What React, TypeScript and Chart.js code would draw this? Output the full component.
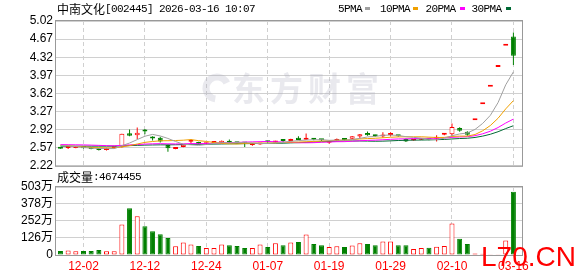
import React, { useEffect, useRef } from 'react';
import { Chart, registerables } from 'chart.js';

Chart.register(...registerables);

// ---------- data ----------
const opens = [
  2.57, 2.565, 2.565, 2.57, 2.56, 2.545, 2.525, 2.56, 2.58, 2.85,
  2.81, 2.89, 2.755, 2.76, 2.62, 2.545, 2.585, 2.685, 2.68, 2.635,
  2.66, 2.66, 2.67, 2.665, 2.66, 2.62, 2.63, 2.685, 2.67, 2.705,
  2.70, 2.76, 2.725, 2.735, 2.725, 2.665, 2.70, 2.725, 2.745, 2.785,
  2.855, 2.80, 2.785, 2.815, 2.81, 2.74, 2.71, 2.725, 2.735, 2.745,
  2.82, 2.83, 2.95, 2.88, 3.10, 3.41, 3.75, 4.13, 4.54, 4.72,
];
const highs = [
  2.575, 2.59, 2.585, 2.575, 2.565, 2.55, 2.57, 2.585, 2.84, 2.92,
  2.96, 2.93, 2.79, 2.78, 2.63, 2.57, 2.63, 2.74, 2.685, 2.65,
  2.685, 2.71, 2.73, 2.67, 2.665, 2.635, 2.655, 2.69, 2.705, 2.72,
  2.745, 2.79, 2.845, 2.74, 2.73, 2.68, 2.75, 2.73, 2.795, 2.835,
  2.885, 2.82, 2.87, 2.87, 2.815, 2.75, 2.735, 2.74, 2.74, 2.81,
  2.84, 3.04, 2.965, 2.89, 3.10, 3.41, 3.75, 4.13, 4.54, 4.80,
];
const lows = [
  2.55, 2.545, 2.56, 2.555, 2.54, 2.515, 2.515, 2.55, 2.575, 2.79,
  2.74, 2.83, 2.71, 2.67, 2.49, 2.54, 2.58, 2.64, 2.63, 2.625,
  2.65, 2.655, 2.66, 2.65, 2.585, 2.61, 2.625, 2.67, 2.665, 2.68,
  2.695, 2.715, 2.72, 2.715, 2.70, 2.645, 2.695, 2.71, 2.74, 2.745,
  2.80, 2.775, 2.76, 2.79, 2.78, 2.68, 2.705, 2.72, 2.715, 2.69,
  2.81, 2.80, 2.88, 2.80, 3.10, 3.41, 3.75, 4.13, 4.54, 4.17,
];
const closes = [
  2.55, 2.57, 2.575, 2.56, 2.545, 2.525, 2.56, 2.575, 2.84, 2.80,
  2.86, 2.885, 2.75, 2.69, 2.56, 2.565, 2.625, 2.69, 2.635, 2.645,
  2.67, 2.705, 2.665, 2.655, 2.65, 2.63, 2.65, 2.675, 2.70, 2.70,
  2.74, 2.72, 2.73, 2.725, 2.715, 2.675, 2.74, 2.72, 2.79, 2.83,
  2.81, 2.79, 2.825, 2.82, 2.79, 2.69, 2.73, 2.73, 2.725, 2.76,
  2.825, 2.97, 2.90, 2.82, 3.10, 3.41, 3.75, 4.13, 4.54, 4.35,
];
// volume in 万 (10,000 shares)
const volumes = [
  29, 34, 27, 29, 29, 37, 27, 27, 225, 345,
  287, 213, 176, 154, 125, 64, 93, 78, 66, 51,
  51, 78, 73, 66, 51, 51, 78, 59, 86, 73,
  93, 96, 152, 81, 73, 59, 64, 59, 71, 86,
  81, 73, 100, 100, 73, 73, 44, 51, 54, 61,
  66, 233, 120, 81, 12, 9, 6, 6, 108, 467.4455,
];
const ma5 = [
  2.615, 2.605, 2.59, 2.575, 2.56, 2.555, 2.553, 2.553, 2.609, 2.66,
  2.727, 2.792, 2.827, 2.797, 2.749, 2.69, 2.638, 2.626, 2.615, 2.632,
  2.653, 2.669, 2.664, 2.668, 2.669, 2.661, 2.65, 2.652, 2.661, 2.671,
  2.693, 2.707, 2.718, 2.723, 2.726, 2.713, 2.717, 2.715, 2.728, 2.751,
  2.778, 2.788, 2.809, 2.815, 2.807, 2.783, 2.771, 2.752, 2.733, 2.727,
  2.754, 2.802, 2.836, 2.855, 2.923, 3.04, 3.196, 3.442, 3.786, 4.036,
];
const ma10 = [
  2.615, 2.605, 2.595, 2.585, 2.575, 2.57, 2.565, 2.565, 2.585, 2.61,
  2.641, 2.673, 2.69, 2.703, 2.705, 2.709, 2.715, 2.727, 2.706, 2.691,
  2.672, 2.654, 2.645, 2.642, 2.651, 2.657, 2.66, 2.658, 2.665, 2.67,
  2.677, 2.679, 2.685, 2.692, 2.699, 2.703, 2.712, 2.717, 2.726, 2.739,
  2.746, 2.753, 2.762, 2.772, 2.779, 2.781, 2.78, 2.781, 2.774, 2.767,
  2.769, 2.787, 2.794, 2.794, 2.825, 2.897, 2.999, 3.139, 3.321, 3.48,
];
const ma20 = [
  2.63, 2.628, 2.626, 2.624, 2.62, 2.615, 2.61, 2.607, 2.615, 2.625,
  2.63, 2.64, 2.645, 2.648, 2.645, 2.643, 2.645, 2.65, 2.648, 2.65,
  2.656, 2.663, 2.668, 2.672, 2.678, 2.683, 2.687, 2.692, 2.685, 2.68,
  2.674, 2.666, 2.665, 2.667, 2.675, 2.68, 2.686, 2.687, 2.695, 2.704,
  2.711, 2.716, 2.724, 2.732, 2.739, 2.742, 2.746, 2.749, 2.75, 2.753,
  2.757, 2.77, 2.778, 2.783, 2.802, 2.839, 2.889, 2.96, 3.047, 3.123,
];
const ma30 = [
  2.60, 2.60, 2.60, 2.60, 2.60, 2.60, 2.60, 2.60, 2.605, 2.61,
  2.615, 2.62, 2.623, 2.625, 2.625, 2.627, 2.63, 2.632, 2.635, 2.637,
  2.64, 2.642, 2.645, 2.647, 2.648, 2.65, 2.652, 2.654, 2.655, 2.657,
  2.663, 2.668, 2.673, 2.679, 2.685, 2.69, 2.696, 2.70, 2.699, 2.70,
  2.698, 2.695, 2.697, 2.702, 2.709, 2.714, 2.717, 2.718, 2.721, 2.725,
  2.73, 2.739, 2.747, 2.753, 2.768, 2.794, 2.83, 2.879, 2.94, 2.995,
];
const priceTicks = [2.22, 2.57, 2.92, 3.27, 3.62, 3.97, 4.32, 4.67, 5.02];
const volumeTicks = [0, 126, 252, 378, 503];
const dateTickIndex = [3, 11, 19, 27, 35, 43, 51, 59];
const dateTickLabels = ['12-02', '12-12', '12-24', '01-07', '01-19', '01-29', '02-10', '03-16'];
const stockName = '中南文化';
const stockInfo = '[002445] 2026-03-16 10:07';
const volumeName = '成交量';
const volumeInfo = ':4674455';
const legendNames = ['5PMA', '10PMA', '20PMA', '30PMA'];
const watermarkText = '东方财富';
const siteMark = 'L70.CN';

// ---------- styles ----------
const RED = '#ff0000';
const GREEN = '#008000';
const MA_COLORS = ['#a0a0a0', '#f0a000', '#ff00ff', '#006a35'];
const GRID = '#d0d0d0';
const FRAME = '#999999';
const SANS = "'Liberation Sans', 'Noto Sans CJK SC', sans-serif";
const CJK = "'Noto Sans CJK SC', sans-serif";
const MONO = "'Liberation Mono', monospace";
const X_MIN = -0.58;
const X_MAX = 60.12;

const idx = closes.map((_, i) => i);
const isUp = idx.map((i) => closes[i] >= opens[i]);

const framePlugin = {
  id: 'frame',
  afterDraw(chart: any) {
    const { ctx, chartArea: a } = chart;
    ctx.save();
    ctx.strokeStyle = FRAME;
    ctx.lineWidth = 1;
    ctx.strokeRect(a.left - 0.5, a.top - 0.5, a.right - a.left + 1, a.bottom - a.top + 1);
    ctx.restore();
  },
};

const priceDecor = {
  id: 'priceDecor',
  beforeDatasetsDraw(chart: any) {
    const { ctx } = chart;
    ctx.save();
    ctx.fillStyle = 'rgba(170,170,190,0.26)';
    ctx.strokeStyle = 'rgba(170,170,190,0.26)';
    // logo swirl
    ctx.lineWidth = 7;
    ctx.beginPath();
    ctx.arc(217, 88, 11, Math.PI * 0.55, Math.PI * 1.85);
    ctx.stroke();
    ctx.font = `bold 33px ${CJK}`;
    ctx.textBaseline = 'middle';
    (ctx as any).letterSpacing = '5px';
    ctx.fillText(watermarkText, 232, 88);
    ctx.restore();
  },
  afterDraw(chart: any) {
    const { ctx } = chart;
    ctx.save();
    ctx.fillStyle = '#000';
    ctx.textBaseline = 'middle';
    ctx.font = `12px ${CJK}`;
    ctx.fillText(stockName, 57, 9);
    ctx.font = `11px ${MONO}`;
    (ctx as any).letterSpacing = '-0.6px';
    ctx.fillText(stockInfo, 105, 9);
    const tx = [338, 380, 425.5, 471.5];
    const rx = [365, 413, 460, 506];
    legendNames.forEach((n, k) => {
      ctx.fillStyle = '#000';
      ctx.fillText(n, tx[k], 9);
      ctx.fillStyle = MA_COLORS[k];
      ctx.fillRect(rx[k], 7, 5, 3);
    });
    ctx.restore();
  },
};

const volumeDecor = {
  id: 'volumeDecor',
  afterDraw(chart: any) {
    const { ctx } = chart;
    ctx.save();
    ctx.fillStyle = '#000';
    ctx.textBaseline = 'middle';
    ctx.font = `12px ${CJK}`;
    ctx.fillText(volumeName, 57, 17.5);
    ctx.font = `11px ${MONO}`;
    (ctx as any).letterSpacing = '-0.6px';
    ctx.fillText(volumeInfo, 93, 17.5);
    (ctx as any).letterSpacing = '0px';
    ctx.fillStyle = RED;
    ctx.textBaseline = 'alphabetic';
    ctx.font = `28px ${SANS}`;
    ctx.fillText(siteMark, 481, 106);
    ctx.restore();
  },
};

function xScale(showLabels: boolean) {
  return {
    type: 'linear',
    min: X_MIN,
    max: X_MAX,
    offset: false,
    afterBuildTicks: (s: any) => {
      s.ticks = dateTickIndex.map((v) => ({ value: v }));
    },
    afterFit: (s: any) => {
      s.height = showLabels ? 21 : 0;
    },
    grid: { color: GRID, lineWidth: 1, drawTicks: false, offset: false },
    border: { display: false, dash: [4, 3] },
    ticks: {
      display: showLabels,
      autoSkip: false,
      maxRotation: 0,
      padding: 4,
      color: RED,
      font: { family: SANS, size: 12 },
      callback: (v: any) => {
        const k = dateTickIndex.indexOf(Number(v));
        return k >= 0 ? dateTickLabels[k] : '';
      },
    },
  };
}

export default function App() {
  const priceRef = useRef<HTMLCanvasElement | null>(null);
  const volRef = useRef<HTMLCanvasElement | null>(null);

  useEffect(() => {
    const priceChart = new Chart(priceRef.current as HTMLCanvasElement, {
      type: 'bar',
      data: {
        datasets: [
          ...[ma5, ma10, ma20, ma30].map((arr, k) => ({
            type: 'line' as const,
            data: idx.map((i) => ({ x: i, y: arr[i] })),
            borderColor: MA_COLORS[k],
            borderWidth: 1,
            pointRadius: 0,
            tension: 0,
            order: 0,
          })),
          {
            type: 'bar' as const,
            data: idx.map((i) => ({ x: i, y: [opens[i], closes[i]] })),
            backgroundColor: idx.map((i) => (isUp[i] ? '#ffffff' : GREEN)),
            borderColor: idx.map((i) => (isUp[i] ? RED : GREEN)),
            borderWidth: 1,
            borderSkipped: false,
            barThickness: 5,
            minBarLength: 2,
            grouped: false,
            inflateAmount: 0,
            order: 1,
          },
          {
            type: 'bar' as const,
            data: idx.map((i) => ({ x: i, y: [lows[i], highs[i]] })),
            backgroundColor: idx.map((i) => (isUp[i] ? RED : GREEN)),
            borderWidth: 0,
            barThickness: 1,
            grouped: false,
            inflateAmount: 0,
            order: 2,
          },
        ] as any,
      },
      options: {
        animation: false,
        responsive: false,
        devicePixelRatio: 1,
        events: [],
        layout: { padding: { top: 21, right: 56, bottom: 10, left: 0 } },
        plugins: { legend: { display: false }, tooltip: { enabled: false } },
        scales: {
          x: xScale(false) as any,
          y: {
            type: 'linear',
            min: 2.22,
            max: 5.02,
            beginAtZero: false,
            afterBuildTicks: (s: any) => {
              s.ticks = priceTicks.map((v) => ({ value: v }));
            },
            afterFit: (s: any) => {
              s.width = 56;
            },
            grid: { color: GRID, drawTicks: false },
            border: { display: false },
            ticks: {
              autoSkip: false,
              padding: 3,
              color: '#000',
              font: { family: SANS, size: 12 },
              callback: (v: any) => Number(v).toFixed(2),
            },
          },
        },
      },
      plugins: [priceDecor, framePlugin],
    } as any);

    const volChart = new Chart(volRef.current as HTMLCanvasElement, {
      type: 'bar',
      data: {
        datasets: [
          {
            data: idx.map((i) => ({ x: i, y: volumes[i] })),
            backgroundColor: idx.map((i) => (isUp[i] ? '#ffffff' : GREEN)),
            borderColor: idx.map((i) => (isUp[i] ? RED : GREEN)),
            borderWidth: 1,
            borderSkipped: false,
            barThickness: 5,
            grouped: false,
            inflateAmount: 0,
          },
        ] as any,
      },
      options: {
        animation: false,
        responsive: false,
        devicePixelRatio: 1,
        events: [],
        layout: { padding: { top: 27, right: 56, bottom: 0, left: 0 } },
        plugins: { legend: { display: false }, tooltip: { enabled: false } },
        scales: {
          x: xScale(true) as any,
          y: {
            type: 'linear',
            min: 0,
            max: 503,
            afterBuildTicks: (s: any) => {
              s.ticks = volumeTicks.map((v) => ({ value: v }));
            },
            afterFit: (s: any) => {
              s.width = 56;
            },
            grid: { color: GRID, drawTicks: false },
            border: { display: false },
            ticks: {
              autoSkip: false,
              padding: 3,
              color: '#000',
              font: { family: SANS, size: 12 },
              callback: (v: any) => (Number(v) === 0 ? '0' : `${v}万`),
            },
          },
        },
      },
      plugins: [framePlugin, volumeDecor],
    } as any);

    return () => {
      priceChart.destroy();
      volChart.destroy();
    };
  }, []);

  return (
    <div style={{ position: 'absolute', left: 0, top: 0, width: 578, height: 276, background: '#fff' }}>
      <canvas
        ref={priceRef}
        width={578}
        height={176}
        style={{ position: 'absolute', left: 0, top: 0, width: 578, height: 176 }}
      />
      <canvas
        ref={volRef}
        width={578}
        height={116}
        style={{ position: 'absolute', left: 0, top: 160, width: 578, height: 116 }}
      />
    </div>
  );
}
